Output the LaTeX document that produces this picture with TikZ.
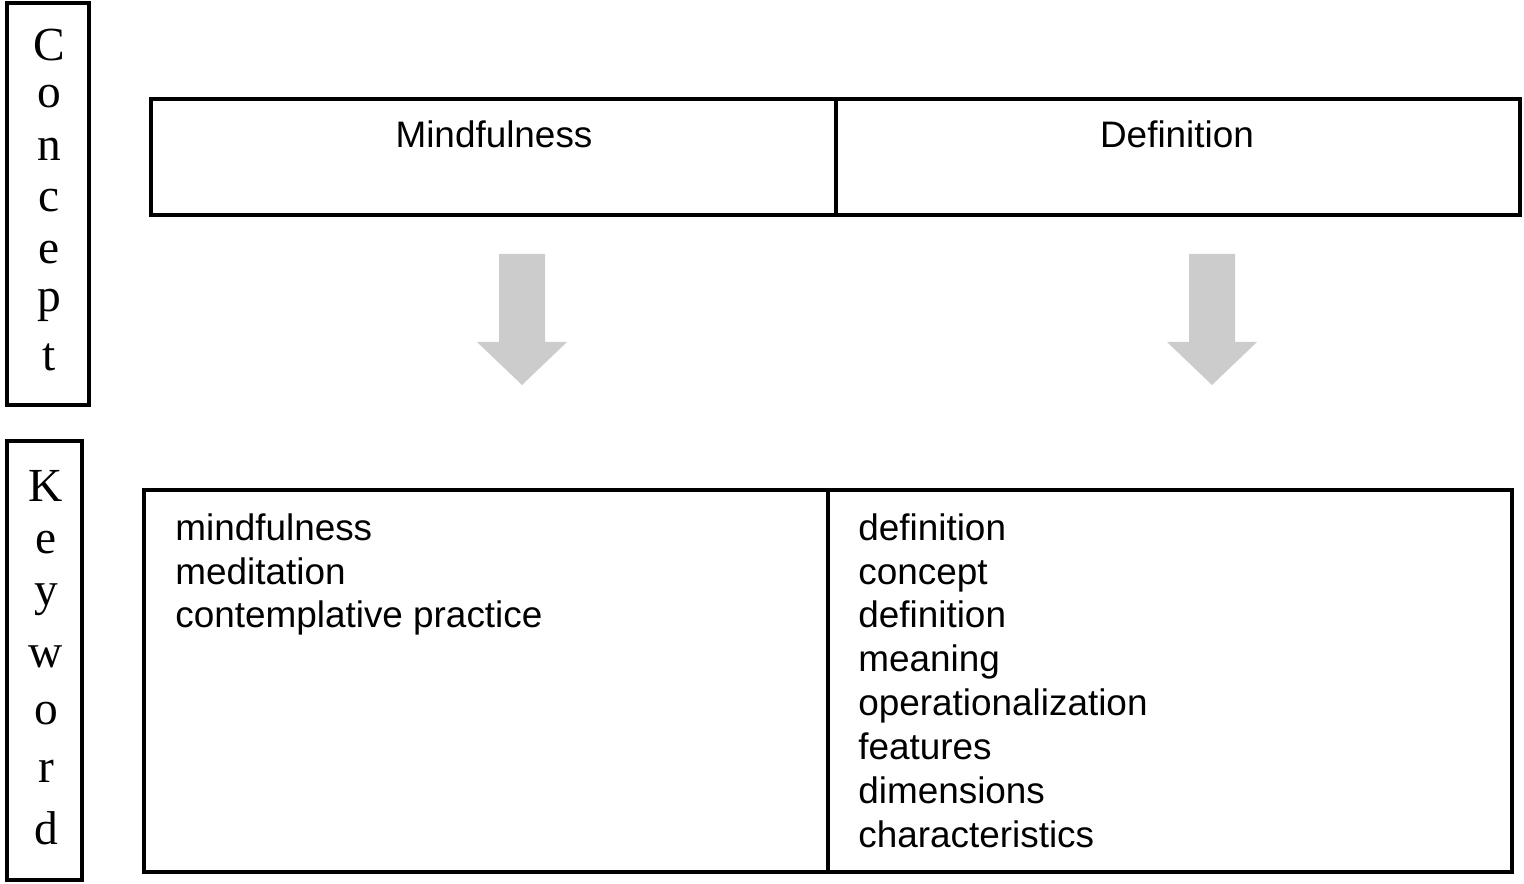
\documentclass[tikz,border=0pt]{standalone}
\usepackage{fontspec}
\setsansfont{Liberation Sans}
\setmainfont{Liberation Serif}
\definecolor{arrowgrey}{HTML}{CCCCCC}
\tikzset{
  box/.style={draw=black,line width=2pt},
  side/.style={font=\rmfamily\fontsize{27}{27}\selectfont,inner sep=0pt},
  head/.style={font=\sffamily\fontsize{21}{21}\selectfont,inner sep=0pt},
  kw/.style={font=\sffamily\fontsize{21}{25}\selectfont,align=left,inner sep=0pt,anchor=north west},
}
\newcommand{\bigdown}[1]{%
  \fill[arrowgrey] (#1-23,254) -- (#1+23,254) -- (#1+23,342) -- (#1+45,342)
    -- (#1,385) -- (#1-45,342) -- (#1-23,342) -- cycle;}
\begin{document}
\begin{tikzpicture}[x=0.02cm,y=-0.02cm]
  \useasboundingbox (0,0) rectangle (1524,884);
  % side labels
  \draw[box] (7,3) rectangle (89,405);
  \foreach \ch [count=\i] in {C,o,n,c,e,p,t}
    \node[side] (c\i) at (49,45+52*\i-52) {\ch};
  \draw[box] (7,441) rectangle (82,880);
  \foreach \ch [count=\i] in {K,e,y,w,o,r,d}
    \node[side] (k\i) at (46,486+57*\i-57) {\ch};
  % concept row
  \draw[box] (151,99) rectangle (1520,215);
  \draw[box] (836,99) -- (836,215);
  \node[head] (mind) at (494,134) {Mindfulness};
  \node[head] (defn) at (1177,134) {Definition};
  % arrows
  \bigdown{522}
  \bigdown{1212}
  % keyword row
  \draw[box] (144,490) rectangle (1512,872);
  \draw[box] (828,490) -- (828,872);
  \node[kw] (kwl) at (175,513) {mindfulness\\meditation\\contemplative practice};
  \node[kw] (kwr) at (858,513) {definition\\concept\\definition\\meaning\\operationalization\\features\\dimensions\\characteristics};
\end{tikzpicture}
\end{document}
